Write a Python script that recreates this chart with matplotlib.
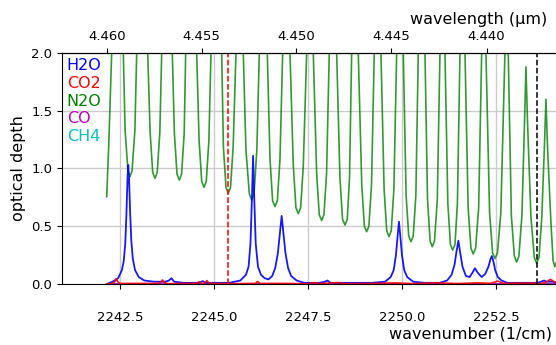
import matplotlib
matplotlib.use("Agg")
import matplotlib.pyplot as plt
from matplotlib.ticker import FormatStrFormatter

# wavenumber range of the plot (1/cm)
XMIN, XMAX = 2240.957, 2254.149

# N2O optical depth (peaks run off the top)
n2o_x = [2242.146, 2242.20, 2242.279, 2242.43,
         2242.588, 2242.636, 2242.711, 2242.766, 2242.821, 2242.896, 2242.944, 2243.09,
         2243.237, 2243.30, 2243.37, 2243.431, 2243.49, 2243.56, 2243.609, 2243.75,
         2243.891, 2243.947, 2244.017, 2244.077, 2244.137, 2244.207, 2244.247, 2244.39,
         2244.540, 2244.604, 2244.674, 2244.734, 2244.794, 2244.864, 2244.920, 2245.06,
         2245.205, 2245.25, 2245.32, 2245.380, 2245.44, 2245.51, 2245.585, 2245.68,
         2245.779, 2245.85, 2245.94, 2246.003, 2246.065, 2246.14, 2246.205, 2246.31,
         2246.418, 2246.49, 2246.56, 2246.622, 2246.685, 2246.755, 2246.827, 2246.92,
         2247.021, 2247.11, 2247.18, 2247.242, 2247.305, 2247.375, 2247.465, 2247.55,
         2247.641, 2247.73, 2247.80, 2247.864, 2247.925, 2247.995, 2248.066, 2248.16,
         2248.263, 2248.35, 2248.42, 2248.484, 2248.545, 2248.605, 2248.662, 2248.75,
         2248.838, 2248.93, 2249.00, 2249.061, 2249.12, 2249.19, 2249.263, 2249.35,
         2249.441, 2249.525, 2249.595, 2249.654, 2249.715, 2249.785, 2249.859, 2249.95,
         2250.035, 2250.11, 2250.18, 2250.239, 2250.30, 2250.37, 2250.434, 2250.52,
         2250.612, 2250.68, 2250.75, 2250.806, 2250.865, 2250.94, 2251.011, 2251.08,
         2251.144, 2251.22, 2251.29, 2251.348, 2251.41, 2251.475, 2251.543, 2251.61,
         2251.676, 2251.76, 2251.835, 2251.896, 2251.96, 2252.04, 2252.120, 2252.18,
         2252.234, 2252.33, 2252.41, 2252.473, 2252.54, 2252.63, 2252.739, 2252.78,
         2252.827, 2252.91, 2252.99, 2253.051, 2253.11, 2253.19, 2253.26, 2253.298, 2253.34,
         2253.43, 2253.52, 2253.582, 2253.645, 2253.72, 2253.79, 2253.830, 2253.87,
         2253.96, 2254.02, 2254.07, 2254.12]
n2o_y = [0.756, 1.2, 2.0, 2.6,
         2.0, 1.33, 0.98, 0.93, 0.98, 1.33, 2.0, 2.6,
         2.0, 1.32, 0.965, 0.915, 0.965, 1.32, 2.0, 2.6,
         2.0, 1.30, 0.95, 0.90, 0.95, 1.30, 2.0, 2.6,
         2.0, 1.24, 0.887, 0.837, 0.887, 1.24, 2.0, 2.6,
         2.0, 1.19, 0.835, 0.785, 0.835, 1.19, 2.0, 2.6,
         2.0, 1.16, 0.78, 0.727, 0.78, 1.16, 2.0, 2.6,
         2.0, 1.08, 0.72, 0.67, 0.72, 1.08, 2.0, 2.6,
         2.0, 1.02, 0.66, 0.61, 0.66, 1.02, 2.0, 2.6,
         2.0, 0.96, 0.60, 0.55, 0.60, 0.96, 2.0, 2.6,
         2.0, 0.92, 0.56, 0.51, 0.56, 0.92, 2.0, 2.6,
         2.0, 0.86, 0.50, 0.453, 0.50, 0.86, 2.0, 2.6,
         2.0, 0.82, 0.46, 0.41, 0.46, 0.82, 2.0, 2.6,
         2.0, 0.77, 0.415, 0.366, 0.415, 0.77, 2.0, 2.6,
         2.0, 0.73, 0.37, 0.323, 0.37, 0.73, 2.0, 2.6,
         2.0, 0.70, 0.34, 0.294, 0.34, 0.70, 2.0, 2.6,
         2.0, 0.66, 0.31, 0.26, 0.31, 0.66, 2.0, 2.6,
         2.0, 0.62, 0.27, 0.22, 0.27, 0.62, 2.0, 2.4,
         2.0, 0.59, 0.24, 0.19, 0.24, 0.59, 1.4, 1.88, 1.4,
         0.58, 0.23, 0.18, 0.23, 0.58, 1.2, 1.6, 1.2,
         0.55, 0.20, 0.15, 0.20]

# H2O optical depth
h2o_x = [2242.15, 2242.30, 2242.45, 2242.55, 2242.60, 2242.64, 2242.67, 2242.70, 2242.72,
         2242.74, 2242.77, 2242.80, 2242.84, 2242.90, 2243.00, 2243.15, 2243.40, 2243.70,
         2243.80, 2243.87, 2243.94, 2244.20, 2244.60, 2244.70, 2244.78, 2245.00, 2245.40,
         2245.70, 2245.85, 2245.92, 2245.97, 2246.01, 2246.04, 2246.07, 2246.11, 2246.17,
         2246.25, 2246.35, 2246.45, 2246.55, 2246.63, 2246.70, 2246.75, 2246.80, 2246.85,
         2246.90, 2246.97, 2247.05, 2247.20, 2247.40, 2247.80, 2247.95, 2248.02, 2248.10,
         2248.60, 2249.20, 2249.55, 2249.70, 2249.78, 2249.84, 2249.88, 2249.92, 2249.96,
         2250.00, 2250.06, 2250.14, 2250.30, 2250.60, 2251.00, 2251.20, 2251.32, 2251.40,
         2251.45, 2251.50, 2251.55, 2251.61, 2251.70, 2251.80, 2251.88, 2251.94, 2252.01,
         2252.12, 2252.22, 2252.30, 2252.35, 2252.39, 2252.43, 2252.48, 2252.55, 2252.65,
         2252.80, 2253.30, 2253.60, 2253.70, 2253.78, 2253.85, 2254.00, 2254.12]
h2o_y = [0.00, 0.02, 0.05, 0.12, 0.20, 0.35, 0.60, 0.92, 1.03,
         0.92, 0.62, 0.38, 0.22, 0.12, 0.06, 0.03, 0.02, 0.02,
         0.03, 0.05, 0.02, 0.01, 0.01, 0.025, 0.01, 0.01, 0.01,
         0.03, 0.08, 0.15, 0.35, 0.75, 1.11, 0.75, 0.35, 0.15,
         0.08, 0.05, 0.04, 0.07, 0.14, 0.27, 0.43, 0.59, 0.43,
         0.27, 0.14, 0.07, 0.03, 0.01, 0.01, 0.02, 0.03, 0.01,
         0.01, 0.01, 0.02, 0.06, 0.12, 0.25, 0.40, 0.54, 0.40,
         0.25, 0.12, 0.06, 0.02, 0.01, 0.01, 0.03, 0.08, 0.17,
         0.28, 0.375, 0.27, 0.15, 0.07, 0.06, 0.10, 0.136, 0.10,
         0.06, 0.09, 0.15, 0.21, 0.242, 0.20, 0.12, 0.06, 0.03,
         0.01, 0.01, 0.01, 0.02, 0.03, 0.02, 0.02, 0.01]

# CO2 optical depth
co2_x = [2242.15, 2242.30, 2242.36, 2242.40, 2242.44, 2242.50, 2243.50, 2243.58, 2243.63,
         2243.68, 2243.75, 2244.55, 2244.60, 2244.65, 2244.75, 2244.81, 2244.87, 2245.50,
         2246.10, 2246.16, 2246.22, 2246.90, 2247.50, 2247.65, 2247.80, 2248.30, 2248.50,
         2249.20, 2249.80, 2250.30, 2250.90, 2251.50, 2252.00, 2252.35, 2252.55, 2252.70,
         2253.40, 2253.70, 2253.85, 2253.95, 2254.05, 2254.12]
co2_y = [0.0, 0.005, 0.02, 0.045, 0.02, 0.005, 0.005, 0.015, 0.035,
         0.015, 0.003, 0.005, 0.02, 0.005, 0.005, 0.03, 0.005, 0.003,
         0.005, 0.022, 0.005, 0.005, 0.002, 0.012, 0.003, 0.012, 0.003,
         0.004, 0.01, 0.003, 0.01, 0.004, 0.01, 0.006, 0.025, 0.005,
         0.008, 0.003, 0.02, 0.04, 0.02, 0.01]

# CO and CH4 stay at zero here
co_x = [2242.15, 2254.12]
co_y = [0.0, 0.0]
ch4_x = [2242.15, 2254.12]
ch4_y = [0.0, 0.0]

# markers
line_red = 2245.37
line_black = 2253.59

bottom_ticks = [2242.5, 2245.0, 2247.5, 2250.0, 2252.5]
top_ticks = [4.460, 4.455, 4.450, 4.445, 4.440]

fig = plt.figure(figsize=(5.56, 3.45), dpi=100)
ax = fig.add_axes([0.1115, 0.1768, 0.892, 0.6696])

ax.plot(ch4_x, ch4_y, color='c', lw=1.2, label='CH4')
ax.plot(co_x, co_y, color='m', lw=1.2, label='CO')
ax.plot(n2o_x, n2o_y, color='g', lw=1.2, alpha=0.8, label='N2O')
ax.plot(h2o_x, h2o_y, color='b', lw=1.3, alpha=0.9, label='H2O')
ax.plot(co2_x, co2_y, color='r', lw=1.2, alpha=0.9, label='CO2')

ax.axvline(line_red, color='r', ls='--', lw=1.1)
ax.axvline(line_black, color='k', ls='--', lw=1.1)

ax.set_xlim(XMIN, XMAX)
ax.set_ylim(0, 2.0)
ax.set_xticks(bottom_ticks)
ax.xaxis.set_major_formatter(FormatStrFormatter('%.1f'))
ax.set_yticks([0.0, 0.5, 1.0, 1.5, 2.0])
ax.yaxis.set_major_formatter(FormatStrFormatter('%.1f'))
ax.grid(True, color='0.8', lw=1)
ax.set_axisbelow(True)
ax.tick_params(axis='x', labelsize=9.5, pad=16)
ax.tick_params(axis='y', labelsize=9.5)
ax.set_xlabel('wavenumber (1/cm)', fontsize=11.5, ha='right', va='top')
ax.xaxis.set_label_coords(0.988, -0.186)
ax.set_ylabel('optical depth', fontsize=11.5)

top = ax.secondary_xaxis('top', functions=(lambda x: 1e4 / x, lambda x: 1e4 / x))
top.set_xticks(top_ticks)
top.xaxis.set_major_formatter(FormatStrFormatter('%.3f'))
top.tick_params(labelsize=9.5)
top.set_xlabel('wavelength (µm)', fontsize=11.5, ha='right', va='bottom')
top.xaxis.set_label_coords(0.978, 1.113, transform=ax.transAxes)

# legend as coloured text only
order = ['H2O', 'CO2', 'N2O', 'CO', 'CH4']
cols = {'H2O': 'b', 'CO2': 'r', 'N2O': 'g', 'CO': 'm', 'CH4': 'c'}
handles, labels = ax.get_legend_handles_labels()
hmap = dict(zip(labels, handles))
leg = ax.legend([hmap[k] for k in order], order, loc='upper left', frameon=False,
                handlelength=0, handletextpad=0, fontsize=11.5, labelspacing=0.18,
                borderaxespad=0.1, borderpad=0.2)
for txt in leg.get_texts():
    txt.set_color(cols[txt.get_text()])
for h in leg.legend_handles:
    h.set_visible(False)

fig.savefig('out.png', dpi=100)
